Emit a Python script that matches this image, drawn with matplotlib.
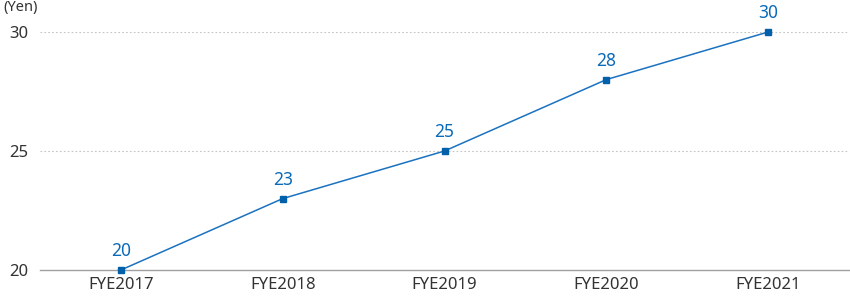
import matplotlib.pyplot as plt

plt.rcParams['font.family'] = ['Noto Sans', 'DejaVu Sans']

years = ['FYE2017', 'FYE2018', 'FYE2019', 'FYE2020', 'FYE2021']
dividends = [20, 23, 25, 28, 30]
yticks = [20, 25, 30]

blue = '#1a72c0'

fig = plt.figure(figsize=(8.5, 3.08), dpi=100)
ax = fig.add_axes([40 / 850, 38 / 308, 809 / 850, 238 / 308])

x = range(len(years))
ax.plot(x, dividends, color=blue, linewidth=1.1, marker='s', markersize=5,
        markerfacecolor='#0060aa', markeredgecolor='#0060aa', zorder=3,
        clip_on=False)
for xi, v in zip(x, dividends):
    ax.annotate(str(v), (xi, v), xytext=(0, 7), textcoords='offset points',
                ha='center', va='bottom', color='#0a6ab8', fontsize=12.5)

ax.set_xlim(-0.5, len(years) - 0.5)
ax.set_ylim(20, 30)
ax.set_xticks(list(x))
ax.set_xticklabels(years)
ax.set_yticks(yticks)
ax.tick_params(axis='both', length=0, labelsize=12, colors='#333333')
ax.tick_params(axis='y', pad=8.5)
ax.tick_params(axis='x', pad=5)

for y in yticks[1:]:
    ax.axhline(y, color='#c4c4c4', linewidth=0.8, linestyle=(0, (1.5, 2)), zorder=1)

for s in ['top', 'right', 'left']:
    ax.spines[s].set_visible(False)
ax.spines['bottom'].set_color('#a0a0a0')
ax.spines['bottom'].set_linewidth(1)
ax.spines['bottom'].set_zorder(2)

fig.text(3 / 850, 1 - 8 / 308, '(Yen)', fontsize=10.5, color='#333333', va='center')

fig.savefig('out.png', dpi=100)
